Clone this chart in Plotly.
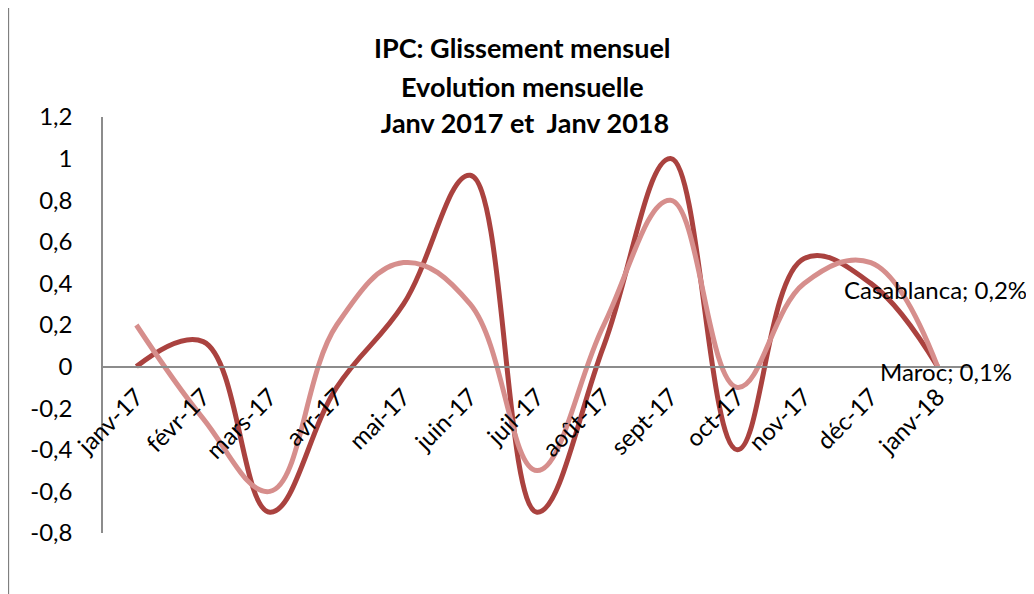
import plotly.graph_objects as go

# categories (mois)
mois = ["janv-17", "févr-17", "mars-17", "avr-17", "mai-17", "juin-17", "juil-17",
        "août-17", "sept-17", "oct-17", "nov-17", "déc-17", "janv-18"]

# series
maroc = [0, 0.12, -0.7, -0.1, 0.3, 0.92, -0.7, 0.1, 1.0, -0.4, 0.52, 0.4, 0]
casablanca = [0.2, -0.25, -0.6, 0.2, 0.5, 0.3, -0.5, 0.2, 0.8, -0.1, 0.4, 0.5, 0]

# y ticks
y_ticks = [-0.8, -0.6, -0.4, -0.2, 0, 0.2, 0.4, 0.6, 0.8, 1, 1.2]
y_text = [f"{v:g}".replace(".", ",") for v in y_ticks]

# title lines
titre = ["IPC: Glissement mensuel", "Evolution mensuelle", " Janv 2017 et  Janv 2018"]

FONT = "Lato"
dark = "rgb(170,66,63)"
light = "rgb(214,142,140)"

fig = go.Figure()
fig.add_trace(go.Scatter(x=mois, y=maroc, name="Maroc", mode="lines",
                         line=dict(color=dark, width=5, shape="spline", smoothing=1.15)))
fig.add_trace(go.Scatter(x=mois, y=casablanca, name="Casablanca", mode="lines",
                         line=dict(color=light, width=5, shape="spline", smoothing=1.15)))

# page body adds ~8px, so figure is a bit smaller
fig.update_layout(
    width=1026, height=586,
    margin=dict(l=95, r=63, t=109, b=61, autoexpand=False),
    paper_bgcolor="white", plot_bgcolor="white",
    showlegend=False,
    separators=", ",
    font=dict(family=FONT, size=24, color="black"),
)

fig.update_yaxes(range=[-0.8, 1.2], tickvals=y_ticks, ticktext=y_text, automargin=False,
                 showgrid=False, zeroline=False, showline=True, linecolor="#8c8c8c",
                 linewidth=1.5, ticks="", ticklabelstandoff=24)
fig.update_xaxes(range=[-0.5, 12.5], anchor="free", position=0.4, automargin=False,
                 showgrid=False, zeroline=False, showline=True, linecolor="#8c8c8c",
                 linewidth=1.5, ticks="", tickangle=-45, tickfont=dict(size=24),
                 ticklabelstandoff=6)

# title, one annotation per line
for i, (ligne, dy) in enumerate(zip(titre, [70, 31, -5])):
    fig.add_annotation(text=f"<b>{ligne}</b>", xref="paper", yref="paper",
                       x=0.483, y=1.0, yshift=dy, yanchor="middle",
                       showarrow=False, font=dict(size=27))

# data labels
fig.add_annotation(text="Casablanca; 0,2%", x=mois[-1], y=casablanca[-1], xshift=-2, yshift=77,
                   showarrow=False, font=dict(size=24))
fig.add_annotation(text="Maroc; 0,1%", x=mois[-1], y=maroc[-1], xshift=8, yshift=-5,
                   showarrow=False, font=dict(size=24))

# chart border on the left
fig.add_shape(type="line", xref="paper", yref="paper", x0=-0.109, x1=-0.109,
              y0=-0.2, y1=1.35, line=dict(color="#7f7f7f", width=1.5))

fig.write_html("out.html")
